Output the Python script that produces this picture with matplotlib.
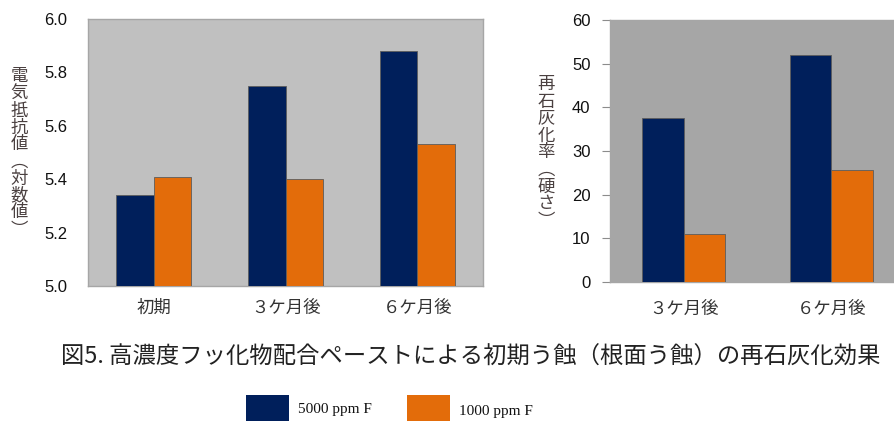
import matplotlib
matplotlib.use("Agg")
import matplotlib.pyplot as plt
from matplotlib.patches import Rectangle
import numpy as np

# --- data ---------------------------------------------------------------
resist_categories = ["初期", "３ケ月後", "６ケ月後"]
resist_5000 = [5.34, 5.75, 5.88]
resist_1000 = [5.41, 5.40, 5.53]
resist_ticks = [5.0, 5.2, 5.4, 5.6, 5.8, 6.0]

remin_categories = ["３ケ月後", "６ケ月後"]
remin_5000 = [37.5, 52.0]
remin_1000 = [11.0, 25.6]
remin_ticks = [0, 10, 20, 30, 40, 50, 60]

series_names = ["5000 ppm F", "1000 ppm F"]
title = "図5. 高濃度フッ化物配合ペーストによる初期う蝕（根面う蝕）の再石灰化効果"
# vertical-form brackets for stacked (tategaki) axis labels
ylabel_left = "電気抵抗値︵対数値︶"
ylabel_right = "再石灰化率︵硬さ︶"

# --- style ----------------------------------------------------------------
NAVY = "#001f5b"
ORANGE = "#e36c0a"
EDGE = "#5c5c5c"
CJK = ["Noto Sans CJK JP", "DejaVu Sans"]
NUM = "Liberation Sans"
LABEL_COLOR = "#4a4040"

W, H = 894, 421
fig = plt.figure(figsize=(W / 100, H / 100), dpi=100)
fig.patch.set_facecolor("white")


def px_axes(x0, y0, x1, y1):
    """Create axes from pixel bounds (top-left origin)."""
    return fig.add_axes([x0 / W, 1 - y1 / H, (x1 - x0) / W, (y1 - y0) / H])


def vertical_label(x, y_top, text, size=12.5):
    step = 17.0
    for i, ch in enumerate(text):
        fig.text(x / W, 1 - (y_top + step * i + step / 2) / H, ch,
                 ha="center", va="center", fontsize=size,
                 family=CJK, color=LABEL_COLOR)


def draw_panel(ax, cats, a, b, ticks, bg, bw, ylim, fmt, tick_len, pad):
    x = np.arange(len(cats))
    base = ylim[0]
    ax.set_facecolor(bg)
    ax.bar(x - bw / 2, np.asarray(a) - base, bw, bottom=base, color=NAVY,
           edgecolor=EDGE, linewidth=0.6, zorder=3)
    ax.bar(x + bw / 2, np.asarray(b) - base, bw, bottom=base, color=ORANGE,
           edgecolor=EDGE, linewidth=0.6, zorder=3)
    ax.set_xlim(-0.5, len(cats) - 0.5)
    ax.set_ylim(*ylim)
    ax.set_yticks(ticks)
    ax.set_yticklabels([fmt.format(t) for t in ticks], fontsize=12,
                       family=NUM, color="#111111")
    ax.set_xticks(x)
    ax.set_xticklabels(cats, fontsize=12.5, family=CJK, color="#333333")
    ax.tick_params(axis="x", length=0, pad=9)
    ax.tick_params(axis="y", length=tick_len, width=0.8, color="#8c8c8c",
                   pad=pad)
    for s in ax.spines.values():
        s.set_color("#a6a6a6")
        s.set_linewidth(1.0)


# left panel: electrical resistance
ax1 = px_axes(88, 19, 483, 286)
draw_panel(ax1, resist_categories, resist_5000, resist_1000, resist_ticks,
           "#c0c0c0", 0.286, (5.0, 6.0), "{:.1f}", 0, 15)

# right panel: remineralisation rate
ax2 = px_axes(610, 20, 905, 282)
draw_panel(ax2, remin_categories, remin_5000, remin_1000, remin_ticks,
           "#a6a6a6", 0.283, (0, 60), "{:d}", 6, 8)
ax2.tick_params(axis="x", pad=13)

vertical_label(19, 68, ylabel_left)
vertical_label(546, 76, ylabel_right)

# caption
fig.text(471 / W, 1 - 357 / H, title, ha="center", va="center",
         fontsize=16.8, family=CJK, color="#222222")

# legend
for (x0, color), name, ty in zip([(246, NAVY), (407, ORANGE)], series_names,
                                 [409, 411]):
    fig.patches.append(Rectangle((x0 / W, 0), 43 / W, (H - 395) / H,
                                 transform=fig.transFigure, facecolor=color,
                                 edgecolor="none"))
    fig.text((x0 + 52) / W, 1 - ty / H, name, ha="left", va="center",
             fontsize=11, family="Liberation Serif", color="#111111")

fig.savefig("out.png", dpi=100)
